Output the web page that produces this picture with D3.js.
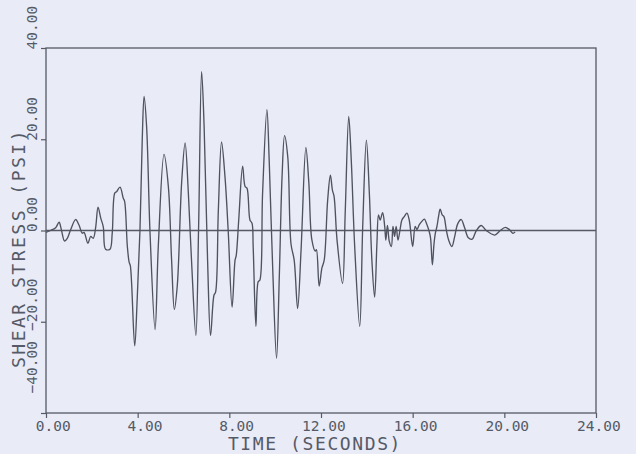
<!DOCTYPE html>
<html>
<head>
<meta charset="utf-8">
<script src="https://cdn.jsdelivr.net/npm/d3@7"></script>
<style>
  html, body { margin: 0; padding: 0; background: #e9ebf6; }
  svg { display: block; }
  text { font-family: "DejaVu Sans Mono", monospace; fill: #555a66; }
</style>
</head>
<body>
<div id="chart"></div>
<script>
// shear stress trace (seconds, psi)
const time = [
  0.00, 0.20, 0.42, 0.57, 0.67, 0.81, 0.93, 1.07, 1.29, 1.44, 1.58, 1.66, 1.83, 1.95, 2.06, 2.17,
  2.27, 2.39, 2.50, 2.60, 2.79, 2.89, 3.00, 3.08, 3.23, 3.37, 3.43, 3.55, 3.63, 3.68, 3.87, 3.98,
  4.10, 4.20, 4.28, 4.39, 4.54, 4.76, 4.90, 5.15, 5.34, 5.48, 5.60, 5.73, 5.92, 6.07, 6.21, 6.36,
  6.54, 6.66, 6.79, 6.90, 7.05, 7.18, 7.33, 7.40, 7.52, 7.66, 7.81, 7.95, 8.12, 8.25, 8.30, 8.41,
  8.58, 8.69, 8.77, 8.90, 8.99, 9.04, 9.16, 9.26, 9.33, 9.45, 9.64, 9.74, 9.89, 10.06, 10.18, 10.30,
  10.41, 10.55, 10.69, 10.83, 10.98, 11.13, 11.34, 11.47, 11.60, 11.75, 11.80, 11.92, 12.04, 12.14, 12.29, 12.41,
  12.50, 12.57, 12.70, 12.94, 13.06, 13.21, 13.32, 13.47, 13.69, 13.82, 13.98, 14.11, 14.22, 14.34, 14.44, 14.51,
  14.58, 14.69, 14.78, 14.83, 14.90, 14.98, 15.07, 15.14, 15.21, 15.28, 15.36, 15.46, 15.53, 15.64, 15.75, 15.85,
  16.00, 16.11, 16.19, 16.29, 16.40, 16.51, 16.62, 16.72, 16.78, 16.86, 16.93, 16.99, 17.06, 17.13, 17.20, 17.29,
  17.36, 17.47, 17.57, 17.71, 17.83, 17.97, 18.12, 18.26, 18.43, 18.59, 18.78, 18.99, 19.21, 19.58, 19.80, 20.04,
  20.22, 20.37, 20.47
];
const stress = [
  -0.4, 0.0, 0.6, 1.8, 0.2, -2.3, -1.7, 0.1, 2.4, 1.2, -0.6, -0.4, -2.8, -1.3, -1.7, 0.8,
  5.1, 2.7, 0.8, -4.1, -4.1, -0.6, 8.2, 8.5, 9.5, 7.1, 6.4, -3.5, -7.0, -7.7, -25.3, -15.0,
  0.0, 20.0, 29.4, 22.8, -0.6, -21.7, -3.5, 16.7, 9.6, -6.4, -17.3, -12.0, 10.6, 19.2, 8.4, -7.6,
  -23.0, 1.0, 34.8, 22.8, -6.4, -23.0, -14.2, -13.5, 4.4, 19.4, 11.8, 0.0, -16.8, -6.5, -5.5, 2.3,
  14.1, 9.6, 9.3, 2.3, 1.6, -3.5, -21.0, -11.2, -10.9, 8.0, 26.5, 15.3, -7.9, -28.0, -10.2, 11.7,
  20.8, 16.1, -2.9, -6.5, -17.1, -4.3, 18.2, 10.4, -2.0, -4.5, -4.2, -12.2, -8.2, -6.5, 6.6, 12.1,
  8.8, 7.5, -2.1, -11.6, 4.5, 25.0, 15.5, -3.5, -21.0, 0.8, 19.8, 8.1, -6.5, -14.6, -2.9, 3.4,
  2.3, 3.9, 0.9, -2.1, 1.1, -2.4, -3.5, 0.9, -1.3, 0.9, -2.1, 0.5, 2.3, 3.1, 3.8, 2.3,
  -3.5, 0.9, 0.2, 1.3, 2.0, 2.5, 1.3, -0.2, -1.6, -7.5, -3.0, -0.6, 0.9, 3.1, 4.7, 3.4,
  3.1, 0.1, -2.1, -3.5, -1.4, 1.5, 2.4, 0.7, -1.6, -1.9, 0.0, 1.1, 0.0, -1.0, -0.1, 0.7,
  0.2, -0.6, -0.3
];

const xTicks = [0, 4, 8, 12, 16, 20, 24];
const yTicks = [-40, -20, 0, 20, 40];

const width = 636;
const height = 454;
const margin = { top: 48, right: 40, bottom: 41, left: 46 };
const ink = "#555a66";
const charW = 8.7; // advance of the tick font

const svg = d3.select("#chart")
  .append("svg")
  .attr("width", width)
  .attr("height", height);

const x = d3.scaleLinear().domain([0, 24]).range([margin.left, width - margin.right]);
const y = d3.scaleLinear().domain([-40, 40]).range([height - margin.bottom, margin.top]);

// frame
svg.append("rect")
  .attr("x", x(0))
  .attr("y", y(40))
  .attr("width", x(24) - x(0))
  .attr("height", y(-40) - y(40))
  .attr("fill", "none")
  .attr("stroke", ink)
  .attr("stroke-width", 1.3);

// zero line
svg.append("line")
  .attr("x1", x(0))
  .attr("x2", x(24))
  .attr("y1", y(0))
  .attr("y2", y(0))
  .attr("stroke", ink)
  .attr("stroke-width", 1.3);

// bottom axis: the decimal point sits just past the tick
const xAxis = svg.append("g")
  .attr("transform", `translate(0,${y(-40)})`)
  .call(d3.axisBottom(x).tickValues(xTicks).tickSize(5).tickFormat(d3.format(".2f")));

xAxis.select(".domain").remove();
xAxis.selectAll("line").attr("stroke", ink).attr("stroke-width", 1.2);
xAxis.selectAll("text")
  .attr("text-anchor", "start")
  .attr("x", d => -(String(Math.trunc(d)).length * charW + 2))
  .attr("y", 17.5)
  .attr("dy", 0)
  .style("font-size", "14.5px")
  .attr("fill", ink);

// left axis, labels rotated and reading upward from the tick
const yAxis = svg.append("g")
  .attr("transform", `translate(${x(0)},0)`)
  .call(d3.axisLeft(y).tickValues(yTicks).tickSize(5).tickFormat(d3.format(".2f")));

yAxis.select(".domain").remove();
yAxis.selectAll("line").attr("stroke", ink).attr("stroke-width", 1.2);
yAxis.selectAll("text")
  .attr("text-anchor", "start")
  .attr("x", 0)
  .attr("y", 0)
  .attr("dy", 0)
  .attr("transform", d => {
    const off = d === -40 ? -20 : d < 0 ? charW : 1;
    return `translate(-9,${off}) rotate(-90)`;
  })
  .style("font-size", "14.5px")
  .attr("fill", ink);

// axis titles
svg.append("text")
  .attr("x", 315)
  .attr("y", 450)
  .attr("text-anchor", "middle")
  .style("font-size", "18px")
  .style("letter-spacing", "1.6px")
  .text("TIME (SECONDS)");

svg.append("text")
  .attr("transform", "translate(25,248) rotate(-90)")
  .attr("text-anchor", "middle")
  .style("font-size", "18px")
  .style("letter-spacing", "2.5px")
  .text("SHEAR STRESS (PSI)");

// the trace
const points = time.map((t, i) => [t, stress[i]]);

const line = d3.line()
  .x(d => x(d[0]))
  .y(d => y(d[1]))
  .curve(d3.curveCatmullRom.alpha(0.5));

svg.append("path")
  .datum(points)
  .attr("d", line)
  .attr("fill", "none")
  .attr("stroke", "#4f5360")
  .attr("stroke-width", 1.35)
  .attr("stroke-linejoin", "round");
</script>
</body>
</html>
